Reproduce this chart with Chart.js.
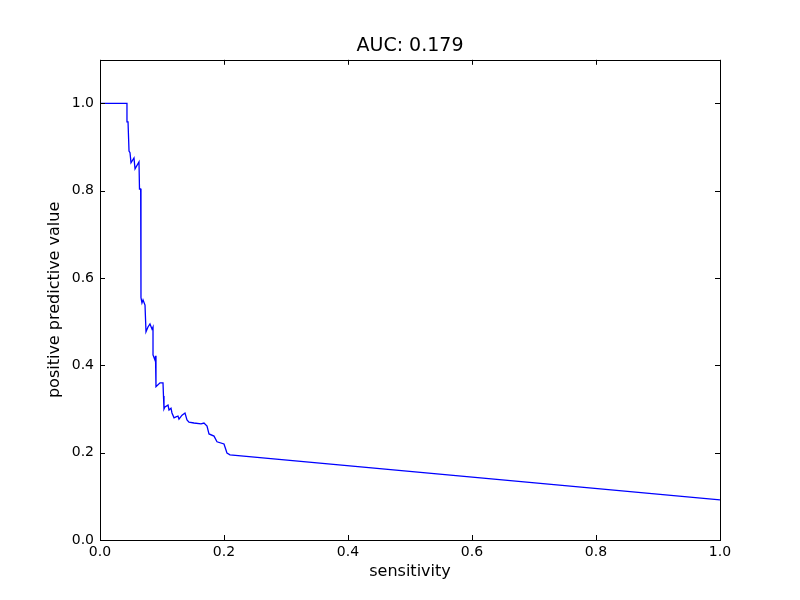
<!DOCTYPE html>
<html>
<head>
<meta charset="utf-8">
<script src="https://cdn.jsdelivr.net/npm/chart.js@4/dist/chart.umd.min.js"></script>
<style>
  html, body { margin: 0; padding: 0; background: #fff; }
  #wrap { width: 800px; height: 600px; }
</style>
</head>
<body>
<div id="wrap"><canvas id="prChart" width="800" height="600"></canvas></div>
<script>
// precision-recall curve
const sensitivity = [0, 0.0435, 0.0435, 0.0452, 0.0468, 0.0484, 0.05, 0.0548, 0.0565, 0.0629,
    0.0637, 0.0656, 0.0661, 0.0677, 0.0694, 0.0726, 0.0742, 0.0774, 0.0806, 0.0839,
    0.0855, 0.0855, 0.0887, 0.0895, 0.0903, 0.0968, 0.1016, 0.1024, 0.1032, 0.1048,
    0.1097, 0.1113, 0.1145, 0.1161, 0.1194, 0.1226, 0.1258, 0.1274, 0.1323, 0.1371,
    0.1387, 0.1403, 0.1435, 0.1516, 0.1629, 0.1677, 0.1726, 0.1758, 0.1839, 0.1887,
    0.2, 0.2032, 0.2048, 0.2097, 1.0];
const ppv = [1.0, 1.0, 0.958, 0.958, 0.891, 0.887, 0.864, 0.875, 0.85, 0.866,
    0.804, 0.804, 0.555, 0.543, 0.55, 0.538, 0.477, 0.488, 0.495, 0.483,
    0.488, 0.424, 0.412, 0.422, 0.351, 0.36, 0.36, 0.33, 0.3, 0.305,
    0.309, 0.298, 0.302, 0.291, 0.28, 0.282, 0.284, 0.277, 0.286, 0.291,
    0.291, 0.275, 0.27, 0.268, 0.266, 0.268, 0.261, 0.243, 0.238, 0.225,
    0.22, 0.206, 0.199, 0.195, 0.092];
const xTicks = [0, 0.2, 0.4, 0.6, 0.8, 1.0];
const yTicks = [0, 0.2, 0.4, 0.6, 0.8, 1.0];
const aucText = 'AUC: 0.179';

const font = 'DejaVu Sans';

// matplotlib-style frame with inward ticks on every side
const framePlugin = {
    id: 'frame',
    afterDraw(chart) {
        const { ctx, chartArea: a, scales } = chart;
        const len = 5;
        ctx.save();
        ctx.strokeStyle = '#000';
        ctx.lineWidth = 1;
        ctx.beginPath();
        scales.x.ticks.forEach(t => {
            const px = Math.round(scales.x.getPixelForValue(t.value)) + 0.5;
            ctx.moveTo(px, a.bottom); ctx.lineTo(px, a.bottom - len);
            ctx.moveTo(px, a.top); ctx.lineTo(px, a.top + len);
        });
        scales.y.ticks.forEach(t => {
            const py = Math.round(scales.y.getPixelForValue(t.value)) + 0.5;
            ctx.moveTo(a.left, py); ctx.lineTo(a.left + len, py);
            ctx.moveTo(a.right, py); ctx.lineTo(a.right - len, py);
        });
        ctx.stroke();
        ctx.strokeRect(Math.round(a.left) + 0.5, Math.round(a.top) + 0.5,
            Math.round(a.right - a.left), Math.round(a.bottom - a.top));
        ctx.restore();
    }
};

new Chart(document.getElementById('prChart'), {
    type: 'line',
    data: {
        datasets: [{
            data: sensitivity.map((s, i) => ({ x: s, y: ppv[i] })),
            borderColor: '#0000ff',
            borderWidth: 1.3,
            pointRadius: 0,
            tension: 0,
            fill: false
        }]
    },
    options: {
        responsive: false,
        animation: false,
        layout: { padding: { left: 0, right: 80, top: 0, bottom: 0 } },
        plugins: {
            legend: { display: false },
            tooltip: { enabled: false },
            title: {
                display: true,
                fullSize: false,
                text: aucText,
                color: '#000',
                font: { family: font, size: 19, weight: 'normal' },
                padding: { top: 35, bottom: 2 }
            }
        },
        scales: {
            x: {
                type: 'linear',
                min: 0,
                max: 1,
                afterBuildTicks: s => { s.ticks = xTicks.map(v => ({ value: v })); },
                afterFit: s => { s.height = 60; },
                grid: { display: false, drawTicks: false },
                border: { display: false },
                ticks: {
                    color: '#000',
                    padding: 4,
                    font: { family: font, size: 14 },
                    callback: v => v.toFixed(1)
                },
                title: {
                    display: true,
                    text: 'sensitivity',
                    color: '#000',
                    font: { family: font, size: 16 },
                    padding: { top: 0, bottom: 19 }
                }
            },
            y: {
                type: 'linear',
                min: 0,
                max: 1.1,
                afterBuildTicks: s => { s.ticks = yTicks.map(v => ({ value: v })); },
                afterFit: s => { s.width = 100; },
                grid: { display: false, drawTicks: false },
                border: { display: false },
                ticks: {
                    color: '#000',
                    padding: 6,
                    font: { family: font, size: 14 },
                    callback: v => v.toFixed(1)
                },
                title: {
                    display: true,
                    text: 'positive predictive value',
                    color: '#000',
                    font: { family: font, size: 16 },
                    padding: { top: 45, bottom: 0 }
                }
            }
        }
    },
    plugins: [framePlugin]
});
</script>
</body>
</html>
